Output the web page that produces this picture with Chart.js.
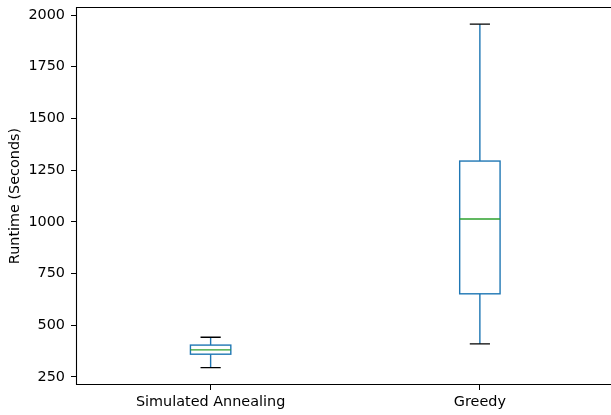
<!DOCTYPE html>
<html>
<head>
<meta charset="utf-8">
<script src="https://cdn.jsdelivr.net/npm/chart.js@4.4.1/dist/chart.umd.min.js"></script>
<style>
  html, body { margin: 0; padding: 0; background: #fff; }
  #wrap { width: 611px; height: 415px; }
</style>
</head>
<body>
<div id="wrap"><canvas id="chart"></canvas></div>
<script>
// runtime distribution per algorithm
const categories = ['Simulated Annealing', 'Greedy'];
const whiskerLow = [295, 410];
const q1 = [360, 652];
const median = [381, 1014];
const q3 = [404, 1294];
const whiskerHigh = [442, 1956];
const yTicks = [250, 500, 750, 1000, 1250, 1500, 1750, 2000];

const font = { family: 'DejaVu Sans', size: 14.4 };

// draws box, whiskers, caps and median line from the arrays above
const boxPlot = {
    id: 'boxPlot',
    afterDatasetsDraw(chart) {
        const ctx = chart.ctx;
        const x = chart.scales.x;
        const y = chart.scales.y;
        const boxHalf = 0.075;
        const capHalf = 0.0375;
        ctx.save();
        ctx.lineWidth = 1.4;
        categories.forEach((c, i) => {
            const pos = i + 1;
            const xl = x.getPixelForValue(pos - boxHalf);
            const xr = x.getPixelForValue(pos + boxHalf);
            const xc = x.getPixelForValue(pos);
            const cl = x.getPixelForValue(pos - capHalf);
            const cr = x.getPixelForValue(pos + capHalf);
            const yq1 = y.getPixelForValue(q1[i]);
            const yq3 = y.getPixelForValue(q3[i]);
            const ylo = y.getPixelForValue(whiskerLow[i]);
            const yhi = y.getPixelForValue(whiskerHigh[i]);
            const ymed = y.getPixelForValue(median[i]);

            ctx.strokeStyle = '#1f77b4';
            ctx.strokeRect(xl, yq3, xr - xl, yq1 - yq3);
            ctx.beginPath();
            ctx.moveTo(xc, yq1); ctx.lineTo(xc, ylo);
            ctx.moveTo(xc, yq3); ctx.lineTo(xc, yhi);
            ctx.stroke();

            ctx.strokeStyle = '#000';
            ctx.beginPath();
            ctx.moveTo(cl, ylo); ctx.lineTo(cr, ylo);
            ctx.moveTo(cl, yhi); ctx.lineTo(cr, yhi);
            ctx.stroke();

            ctx.strokeStyle = '#2ca02c';
            ctx.beginPath();
            ctx.moveTo(xl, ymed); ctx.lineTo(xr, ymed);
            ctx.stroke();
        });
        // axes frame (right spine falls past the canvas edge)
        const a = chart.chartArea;
        const l = Math.round(a.left) + 0.5;
        const t = Math.round(a.top) + 0.5;
        const b = Math.round(a.bottom) - 0.5;
        ctx.strokeStyle = '#000';
        ctx.lineWidth = 1.1;
        ctx.beginPath();
        ctx.moveTo(a.right, t); ctx.lineTo(l, t);
        ctx.lineTo(l, b); ctx.lineTo(a.right, b);
        ctx.stroke();
        ctx.restore();
    }
};

new Chart(document.getElementById('chart'), {
    type: 'scatter',
    data: { datasets: [{ data: [], showLine: false }] },
    options: {
        responsive: true,
        maintainAspectRatio: false,
        animation: false,
        layout: { padding: { top: 7, right: 0, left: 0, bottom: 0 } },
        plugins: { legend: { display: false }, tooltip: { enabled: false } },
        scales: {
            x: {
                type: 'linear',
                min: 0.5,
                max: 2.487,
                afterBuildTicks: axis => { axis.ticks = categories.map((c, i) => ({ value: i + 1 })); },
                afterFit: axis => {
                    axis.height = 30;
                    axis.paddingLeft = 0;
                    axis.paddingRight = 0;
                },
                ticks: {
                    autoSkip: false,
                    maxRotation: 0,
                    padding: 4,
                    color: '#000',
                    font: font,
                    callback: v => categories[v - 1]
                },
                grid: { drawOnChartArea: false, tickLength: 5, color: '#000', lineWidth: 1 },
                border: { display: false }
            },
            y: {
                min: 211,
                max: 2039,
                afterBuildTicks: axis => { axis.ticks = yTicks.map(v => ({ value: v })); },
                afterFit: axis => {
                    axis.width = 76;
                    axis.paddingTop = 0;
                    axis.paddingBottom = 0;
                },
                ticks: { padding: 6, color: '#000', font: font, callback: v => String(v) },
                grid: { drawOnChartArea: false, tickLength: 5, color: '#000', lineWidth: 1 },
                border: { display: false },
                title: {
                    display: true,
                    text: 'Runtime (Seconds)',
                    color: '#000',
                    font: font,
                    padding: { top: 7, bottom: 0 }
                }
            }
        }
    },
    plugins: [boxPlot]
});
</script>
</body>
</html>
